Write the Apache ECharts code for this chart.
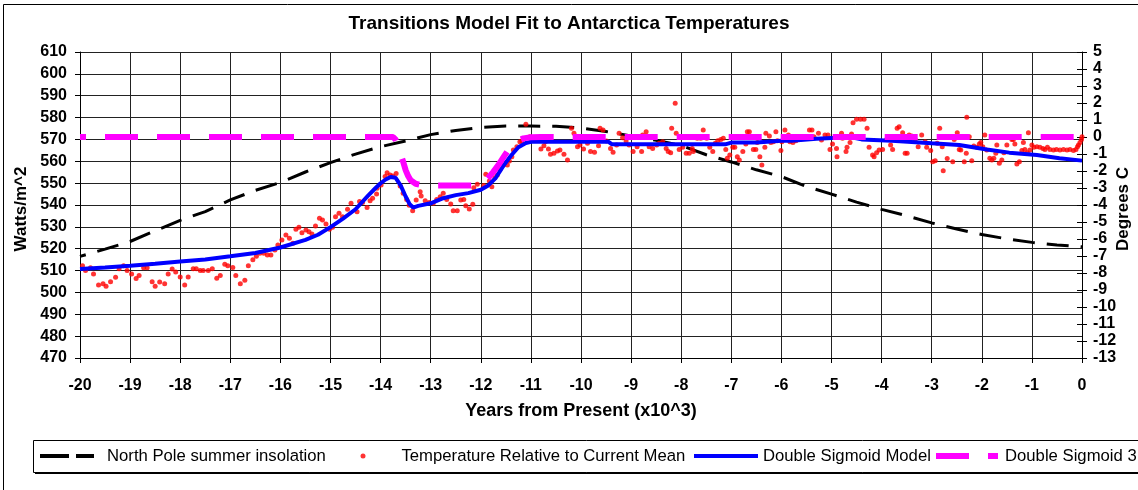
<!DOCTYPE html>
<html><head><meta charset="utf-8">
<script src="https://cdn.jsdelivr.net/npm/echarts@6/dist/echarts.min.js"></script>
<style>html,body{margin:0;padding:0;background:#fff}#c{width:1138px;height:490px}</style>
</head><body><div id="c"></div>
<script>
// ---- data ----
const insolYears = [-20,-19.5,-19,-18.5,-18,-17.5,-17,-16.5,-16,-15.5,-15,-14.5,-14,-13.5,-13,-12.5,-12,-11.5,-11,-10.5,-10,-9.5,-9,-8.5,-8,-7.5,-7,-6.5,-6,-5.5,-5,-4.5,-4,-3.5,-3,-2.5,-2,-1.5,-1,-0.5,0];
const insolWatts = [516.5,519.8,523.3,528.2,533,537,542.3,546.7,550.3,555.1,559.4,563.3,566.7,569.3,572.2,574.1,575.5,576.1,576.1,576,575.2,573.6,571.6,569.6,567.2,563,559.7,556.1,553,548.5,545,541.3,538,535.1,531.8,529,526.5,524.5,522.9,521.7,520.9];

const modelYears = [-20,-19.5,-19,-18.5,-18,-17.5,-17,-16.5,-16,-15.5,-15.25,-15,-14.75,-14.5,-14.25,-14.1,-14,-13.9,-13.8,-13.7,-13.6,-13.5,-13.42,-13.35,-13.25,-13,-12.75,-12.5,-12.25,-12,-11.85,-11.7,-11.55,-11.4,-11.25,-11.1,-11,-9.45,-9.38,-7.12,-7.0,-6.5,-6.0,-5.8,-5.3,-4.9,-4.55,-4.4,-3.8,-3.0,-2.45,-1.9,-1.45,-0.9,-0.45,0];
const modelDeg = [-7.76,-7.67,-7.57,-7.45,-7.32,-7.2,-7.02,-6.82,-6.5,-6.05,-5.75,-5.3,-4.8,-4.25,-3.45,-3.0,-2.72,-2.5,-2.35,-2.4,-2.85,-3.5,-3.95,-4.15,-4.05,-3.9,-3.6,-3.42,-3.3,-3.1,-2.85,-2.4,-1.7,-1.1,-0.6,-0.35,-0.28,-0.28,-0.43,-0.43,-0.33,-0.33,-0.22,-0.22,-0.1,-0.04,-0.04,-0.14,-0.22,-0.37,-0.47,-0.73,-0.92,-1.06,-1.25,-1.39];

const sig3Years = [-20,-13.75,-13.7,-13.65,-13.6,-13.55,-13.5,-13.45,-13.4,-13.3,-13.2,-13.0,-12.05,-11.95,-11.85,-11.75,-11.65,-11.55,-11.45,-11.35,-11.25,-11.15,-11.0,-10.8,0];
const sig3Deg = [0,0,-0.15,-0.5,-1.0,-1.45,-1.95,-2.3,-2.55,-2.75,-2.82,-2.85,-2.85,-2.7,-2.4,-2.05,-1.65,-1.2,-0.75,-0.42,-0.2,-0.08,-0.02,0,0];

const tempPoints = [[-19.95,-7.57],[-19.89,-7.86],[-19.79,-7.69],[-19.73,-8.06],[-19.63,-8.71],[-19.54,-8.63],[-19.48,-8.78],[-19.39,-8.51],[-19.29,-8.25],[-19.22,-7.75],[-19.13,-7.57],[-19.06,-7.86],[-18.97,-8.06],[-18.88,-8.33],[-18.82,-8.14],[-18.73,-7.69],[-18.66,-7.69],[-18.56,-8.51],[-18.5,-8.78],[-18.41,-8.53],[-18.31,-8.63],[-18.24,-8.06],[-18.16,-7.76],[-18.09,-7.94],[-18.0,-8.24],[-17.91,-8.71],[-17.84,-8.24],[-17.74,-7.75],[-17.68,-7.75],[-17.6,-7.86],[-17.54,-7.86],[-17.44,-7.86],[-17.36,-7.75],[-17.27,-8.31],[-17.2,-8.14],[-17.11,-7.49],[-17.05,-7.57],[-16.95,-7.67],[-16.89,-8.14],[-16.8,-8.63],[-16.71,-8.43],[-16.64,-7.57],[-16.55,-7.22],[-16.48,-7.02],[-16.41,-6.84],[-16.33,-6.84],[-16.26,-6.94],[-16.19,-6.94],[-16.11,-6.65],
[-16.05,-6.35],[-15.97,-6.06],[-15.89,-5.76],[-15.82,-5.96],[-15.75,-6.25],[-15.69,-5.43],[-15.63,-5.31],[-15.57,-5.63],[-15.49,-5.47],[-15.43,-5.57],[-15.37,-5.71],[-15.3,-5.24],[-15.22,-4.78],[-15.16,-4.88],[-15.09,-5.12],[-15.02,-5.43],[-14.96,-5.31],[-14.9,-4.69],[-14.83,-4.49],[-14.76,-4.69],[-14.66,-4.25],[-14.59,-3.9],[-14.47,-4.39],[-14.42,-3.8],[-14.36,-3.86],[-14.27,-4.14],[-14.21,-3.75],[-14.16,-3.6],[-14.08,-3.35],[-14.07,-3.02],[-13.99,-2.82],[-13.91,-2.33],[-13.87,-2.1],[-13.81,-2.24],[-13.76,-2.29],[-13.69,-2.14],[-13.61,-2.88],[-13.55,-3.31],[-13.48,-3.67],[-13.43,-4.02],[-13.36,-4.34],[-13.29,-3.71],[-13.21,-3.22],[-13.19,-3.47],[-13.11,-3.75],[-13.03,-3.86],[-12.95,-3.9],[-12.88,-3.67],[-12.81,-3.51],[-12.75,-3.31],[-12.68,-3.67],[-12.6,-3.94],[-12.55,-4.34],[-12.47,-4.34],[-12.4,-3.71],[-12.34,-3.67],
[-12.3,-4.04],[-12.23,-4.24],[-12.16,-3.96],[-12.14,-2.98],[-12.07,-2.78],[-11.94,-2.86],[-11.9,-2.19],[-11.83,-2.59],[-11.78,-2.92],[-11.72,-2.39],[-11.67,-2.24],[-11.62,-1.94],[-11.55,-1.65],[-11.47,-1.65],[-11.43,-1.41],[-11.38,-1.16],[-11.35,-0.76],[-11.28,-0.57],[-11.22,-0.28],[-11.18,-0.24],[-11.1,0.75],[-11.02,0.02],[-10.95,-0.18],[-10.88,-0.18],[-10.8,-0.71],[-10.74,-0.51],[-10.71,-0.28],[-10.65,-0.71],[-10.61,-1.02],[-10.54,-0.96],[-10.47,-0.82],[-10.42,-0.76],[-10.34,-1.02],[-10.27,-1.35],[-10.19,0.51],[-10.14,0.22],[-10.07,-0.57],[-10.02,-0.47],[-9.95,-0.71],[-9.87,-0.37],[-9.81,-0.86],[-9.73,-0.9],[-9.65,-0.51],[-9.62,0.51],[-9.56,0.41],[-9.49,-0.24],[-9.41,-0.67],[-9.36,-0.9],[-9.29,-0.47],[-9.24,0.22],[-9.17,-0.04],[-9.1,-0.24],[-9.04,-0.47],[-8.96,-0.86],[-8.88,-0.57],[-8.79,-0.86],[-8.77,0.12],[-8.7,0.31],[-8.64,-0.57],[-8.57,-0.67],[-8.49,-0.47],
[-8.44,-0.37],[-8.37,-0.28],[-8.3,-0.67],[-8.26,-0.86],[-8.21,-0.92],[-8.19,0.51],[-8.1,0.22],[-8.12,1.98],[-8.04,-0.73],[-7.97,-0.61],[-7.9,-0.96],[-7.84,-0.96],[-7.78,-0.67],[-7.76,-0.86],[-7.68,-0.08],[-7.61,-0.08],[-7.56,0.41],[-7.49,-0.08],[-7.43,-0.61],[-7.37,-0.86],[-7.32,-0.37],[-7.27,-0.22],[-7.21,-0.14],[-7.16,-0.08],[-7.11,-0.73],[-7.08,-1.25],[-7.03,-1.06],[-6.97,-0.61],[-6.93,-0.61],[-6.88,-1.16],[-6.84,-1.35],[-6.77,-0.86],[-6.71,-0.41],[-6.68,0.31],[-6.64,0.31],[-6.56,-0.73],[-6.51,-0.73],[-6.48,-0.33],[-6.43,-1.16],[-6.39,-1.65],[-6.33,-0.61],[-6.31,0.22],[-6.24,0.06],[-6.21,-0.33],[-6.16,-0.28],[-6.11,0.31],[-6.08,-0.22],[-6.01,-0.8],[-5.99,-0.28],[-5.93,0.41],[-5.86,0.12],[-5.83,-0.28],[-5.77,-0.33],[-5.71,-0.22],[-5.64,-0.14],[-5.57,-0.08],[-5.53,0.02],[-5.49,-0.08],[-5.44,0.41],[-5.39,0.41],[-5.35,0.02],[-5.26,0.22],[-5.2,-0.18],[-5.13,0.12],[-5.07,0.12],[-5.03,-0.73],[-4.98,-0.41],[-4.9,-0.67],[-4.89,-1.16],[-4.8,0.22],[-4.78,-0.08],[-4.71,-0.86],[-4.69,-0.61],[-4.63,-0.33],[-4.6,0.18],[-4.57,0.84],[-4.5,1.04],[-4.42,1.04],[-4.35,1.04],[-4.29,0.51],
[-4.25,-0.61],[-4.18,-1.06],[-4.15,-1.16],[-4.1,-0.92],[-4.05,-0.76],[-3.98,-0.73],[-3.9,-0.14],[-3.82,-0.47],[-3.78,-0.73],[-3.71,-0.08],[-3.69,0.51],[-3.65,0.61],[-3.58,0.25],[-3.53,-0.96],[-3.49,-0.96],[-3.45,0.12],[-3.4,0.06],[-3.33,-0.14],[-3.27,-0.57],[-3.2,0.12],[-3.13,-0.28],[-3.1,-0.61],[-3.02,-0.8],[-2.98,-1.45],[-2.93,-1.39],[-2.89,-0.37],[-2.84,0.51],[-2.79,-0.57],[-2.77,-1.98],[-2.69,-1.27],[-2.65,-0.02],[-2.58,-1.45],[-2.55,-0.14],[-2.49,0.25],[-2.45,-0.73],[-2.42,-0.76],[-2.35,-1.45],[-2.31,-0.96],[-2.3,1.16],[-2.25,0.02],[-2.2,-1.39],[-2.16,-0.53],[-2.1,-0.61],[-2.05,-0.41],[-2.02,-0.33],[-1.98,-0.57],[-1.94,0.12],[-1.9,-0.76],[-1.84,-1.25],[-1.8,-1.35],[-1.76,-1.25],[-1.72,-0.96],[-1.7,-0.47],[-1.65,-1.55],[-1.6,-1.35],[-1.56,-0.92],[-1.5,-0.47],[-1.45,-0.02],[-1.4,-0.14],[-1.37,-0.14],[-1.34,-0.41],[-1.3,-1.59],[-1.25,-1.45],[-1.2,-0.8],[-1.17,-0.33],[-1.14,-0.73],[-1.09,-0.92],[-1.07,0.25],[-1.04,-0.76],[-1.0,-0.47],[-0.96,-0.61],[-0.9,-0.57],[-0.84,-0.61],[-0.78,-0.67],[-0.74,-0.73],[-0.69,-0.61],[-0.64,-0.73],[-0.57,-0.76],[-0.51,-0.73],[-0.44,-0.76],[-0.37,-0.73],[-0.3,-0.76],[-0.24,-0.73],[-0.17,-0.8],[-0.12,-0.73],[-0.09,-0.57],[-0.07,-0.47],[-0.04,-0.33],[-0.01,-0.14],[0,0.02]];

const seriesNames = ['North Pole summer insolation','Temperature Relative to Current Mean','Double Sigmoid Model','Double Sigmoid 3'];
const titleText = 'Transitions Model Fit to Antarctica Temperatures';
const xName = 'Years from Present (x10^3)';
const yLeftName = 'Watts/m^2';
const yRightName = 'Degrees C';

// ---- chart ----
const F = "'Liberation Sans', Arial, sans-serif";
const zip = (a, b) => a.map((v, i) => [v, b[i]]);
const chart = echarts.init(document.getElementById('c'), null, {renderer: 'canvas'});
const lbl = {fontFamily: F, fontSize: 16, fontWeight: 'bold', color: '#000'};
const legText = {fontFamily: F, fontSize: 16.7, color: '#000', lineHeight: 18};
const legBase = {orient: 'horizontal', top: 447, padding: 0, selectedMode: false, itemStyle: {borderWidth: 0}};

chart.setOption({
  animation: false,
  backgroundColor: '#fff',
  title: {text: titleText, left: 'center', top: 9, textStyle: {fontFamily: F, fontSize: 19, fontWeight: 'bold', color: '#000'}},
  grid: {left: 80, right: 56, top: 52, bottom: 132, outerBoundsMode: 'none', containLabel: false},
  legend: [
    Object.assign({}, legBase, {left: 40, itemWidth: 54, itemHeight: 4, data: [{name: seriesNames[0], icon: 'path://M0,0h29v4h-29zM36,0h18v4h-18z'}], textStyle: Object.assign({padding: [0,0,0,8]}, legText)}),
    Object.assign({}, legBase, {left: 360.5, itemWidth: 5, itemHeight: 5, data: [{name: seriesNames[1], icon: 'circle'}], textStyle: Object.assign({padding: [0,0,0,31]}, legText)}),
    Object.assign({}, legBase, {left: 694, itemWidth: 64, itemHeight: 4, data: [{name: seriesNames[2], icon: 'rect'}], textStyle: Object.assign({padding: [0,0,0,0]}, legText)}),
    Object.assign({}, legBase, {left: 936, itemWidth: 62, itemHeight: 6, data: [{name: seriesNames[3], icon: 'path://M0,0h33v6h-33zM52,0h10v6h-10z'}], textStyle: Object.assign({padding: [0,0,0,2]}, legText)})
  ],
  xAxis: {
    type: 'value', min: -20, max: 0, interval: 1,
    name: xName, nameLocation: 'middle', nameGap: 44, nameMoveOverlap: false,
    nameTextStyle: {fontFamily: F, fontSize: 18, fontWeight: 'bold', color: '#000'},
    axisLine: {show: true, onZero: false, lineStyle: {color: '#000', width: 1}},
    axisTick: {show: true, length: 5, lineStyle: {color: '#000'}},
    axisLabel: Object.assign({margin: 20, showMinLabel: true, showMaxLabel: true, hideOverlap: false}, lbl),
    splitLine: {show: true, lineStyle: {color: '#222', width: 1}}
  },
  yAxis: [
    {
      type: 'value', position: 'left', min: 470, max: 610, interval: 10,
      name: yLeftName, nameLocation: 'middle', nameRotate: 90, nameGap: 50, nameMoveOverlap: false,
      nameTextStyle: {fontFamily: F, fontSize: 17, fontWeight: 'bold', color: '#000', padding: [0, 8, 0, 0]},
      axisLine: {show: true, onZero: false, lineStyle: {color: '#000', width: 1}},
      axisTick: {show: true, length: 5, lineStyle: {color: '#000'}},
      axisLabel: Object.assign({margin: 13, showMinLabel: true, showMaxLabel: true}, lbl),
      splitLine: {show: true, lineStyle: {color: '#222', width: 1}}
    },
    {
      type: 'value', position: 'right', min: -13, max: 5, interval: 1,
      name: yRightName, nameLocation: 'middle', nameRotate: 90, nameGap: 33, nameMoveOverlap: false,
      nameTextStyle: {fontFamily: F, fontSize: 17, fontWeight: 'bold', color: '#000', padding: [0, 8, 0, 0]},
      axisLine: {show: true, onZero: false, lineStyle: {color: '#000', width: 1}},
      axisTick: {show: true, length: 5, lineStyle: {color: '#000'}},
      axisLabel: Object.assign({margin: 11, showMinLabel: true, showMaxLabel: true, align: 'left'}, lbl),
      splitLine: {show: false}
    },
    {
      type: 'value', position: 'right', min: -13, max: 5, interval: 1,
      axisLine: {show: false}, axisLabel: {show: false}, splitLine: {show: false},
      axisTick: {show: true, inside: true, length: 5, lineStyle: {color: '#000'}}
    }
  ],
  graphic: [
    {type: 'rect', z: 0, silent: true, shape: {x: 3.5, y: 4.5, width: 1200, height: 600}, style: {fill: 'none', stroke: '#000', lineWidth: 1}},
    {type: 'rect', z: 0, silent: true, shape: {x: 35, y: 442, width: 1120, height: 32}, style: {fill: '#000'}},
    {type: 'rect', z: 1, silent: true, shape: {x: 33.5, y: 440.5, width: 1120, height: 32}, style: {fill: '#fff', stroke: '#000', lineWidth: 1}}
  ],
  series: [
    {
      name: seriesNames[0], type: 'line', xAxisIndex: 0, yAxisIndex: 0, data: zip(insolYears, insolWatts),
      showSymbol: false, symbol: 'none', color: '#000', z: 3,
      lineStyle: {color: '#000', width: 3, type: [22, 12], dashOffset: 16}
    },
    {
      name: seriesNames[1], type: 'scatter', xAxisIndex: 0, yAxisIndex: 1, data: tempPoints,
      symbol: 'circle', symbolSize: 5, color: '#ff0000', itemStyle: {color: '#ff0000'}, z: 4
    },
    {
      name: seriesNames[2], type: 'line', xAxisIndex: 0, yAxisIndex: 1, data: zip(modelYears, modelDeg),
      showSymbol: false, symbol: 'none', color: '#0000ff', z: 5,
      lineStyle: {color: '#0000ff', width: 4}
    },
    {
      name: seriesNames[3], type: 'line', xAxisIndex: 0, yAxisIndex: 1, data: zip(sig3Years, sig3Deg),
      showSymbol: false, symbol: 'none', color: '#ff00ff', z: 6,
      lineStyle: {color: '#ff00ff', width: 6, type: [33, 19], dashOffset: 27, cap: 'butt'}
    }
  ]
});
</script></body></html>
